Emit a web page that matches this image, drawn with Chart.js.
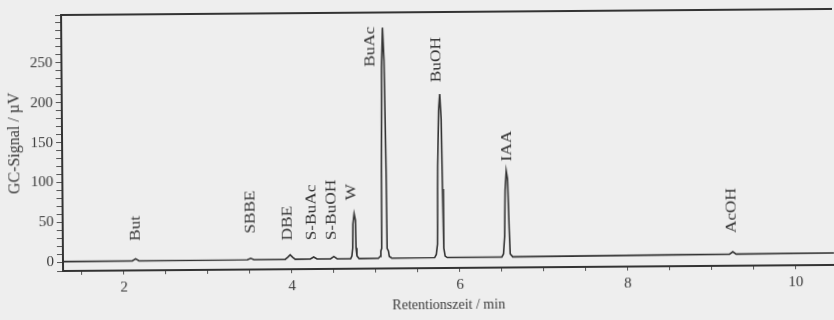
<!DOCTYPE html>
<html>
<head>
<meta charset="utf-8">
<script src="https://cdn.jsdelivr.net/npm/chart.js@4/dist/chart.umd.min.js"></script>
<style>
  html, body { margin: 0; padding: 0; background: #eeeeee; overflow: hidden; }
  /* the scanned figure is a little tilted */
  #gc { display: block; transform: rotate(-0.45deg); transform-origin: 63px 262px; }
</style>
</head>
<body>
<canvas id="gc" width="834" height="320"></canvas>
<script>
// GC chromatogram
var times = [
  1.275, 2.10, 2.14, 2.18,
  3.47, 3.51, 3.55,
  3.92, 3.95, 3.98, 4.01, 4.04,
  4.22, 4.26, 4.30,
  4.46, 4.50, 4.54,
  4.70, 4.715, 4.725, 4.73, 4.745, 4.76, 4.765, 4.775, 4.80,
  5.03, 5.05, 5.06, 5.07, 5.075, 5.085, 5.10, 5.115, 5.13, 5.135, 5.15, 5.16, 5.19,
  5.70, 5.72, 5.735, 5.745, 5.76, 5.775, 5.79, 5.80, 5.81, 5.825, 5.85,
  6.50, 6.52, 6.535, 6.545, 6.56, 6.575, 6.59, 6.60, 6.63,
  9.21, 9.25, 9.29,
  10.454
];
var signal = [
  0.8, 1.0, 3.5, 1.0,
  1.3, 3.0, 1.3,
  1.4, 4.0, 7.0, 4.0, 1.4,
  1.5, 4.0, 1.5,
  1.6, 4.5, 1.6,
  1.7, 5, 15, 45, 58, 50, 15, 5, 1.7,
  1.9, 4, 11, 14, 110, 240, 291, 250, 110, 14, 11, 4, 1.9,
  2.1, 6, 19, 117, 186, 207, 176, 88, 14, 4, 2.1,
  2.3, 6, 28, 86, 110, 100, 38, 6, 2.3,
  3.6, 6.5, 3.6,
  4.0
];

// peak names and where their labels sit (min, µV)
var peakNames   = ['But', 'SBBE', 'DBE', 'S-BuAc', 'S-BuOH', 'W', 'BuAc', 'BuOH', 'IAA', 'AcOH'];
var labelTimes  = [2.14, 3.51, 3.96, 4.245, 4.48, 4.72, 4.96, 5.745, 6.57, 9.24];
var labelLevels = [26, 34, 25, 25, 25, 75, 242, 222, 122, 30];

var xTickLabels = [2, 4, 6, 8, 10];
var yTickLabels = [0, 50, 100, 150, 200, 250];

var points = times.map(function (t, i) { return { x: t, y: signal[i] }; });

var serif = "'Liberation Serif', 'Times New Roman', serif";
var ink = '#333333';

var peakLabels = {
  id: 'peakLabels',
  afterDatasetsDraw: function (chart) {
    var ctx = chart.ctx, xs = chart.scales.x, ys = chart.scales.y;
    ctx.save();
    ctx.fillStyle = '#333';
    ctx.font = '15px ' + serif;
    ctx.textAlign = 'left';
    ctx.textBaseline = 'middle';
    peakNames.forEach(function (name, i) {
      var px = xs.getPixelForValue(labelTimes[i]);
      var py = ys.getPixelForValue(labelLevels[i]);
      ctx.save();
      ctx.translate(px, py);
      ctx.rotate(-Math.PI / 2);
      ctx.scale(1.15, 1);
      ctx.fillText(name, 0, 0);
      ctx.restore();
    });
    ctx.restore();
  }
};

var ctx = document.getElementById('gc').getContext('2d');
var myChart = new Chart(ctx, {
  type: 'line',
  data: {
    datasets: [{
      data: points,
      borderColor: ink,
      borderWidth: 1.6,
      pointRadius: 0,
      tension: 0,
      fill: false
    }]
  },
  options: {
    responsive: false,
    animation: false,
    layout: { padding: { top: 15, right: 0, bottom: 0, left: 0 } },
    plugins: {
      legend: { display: false },
      tooltip: { enabled: false }
    },
    scales: {
      x: {
        type: 'linear',
        min: 1.275,
        max: 10.454,
        afterFit: function (s) { s.height = 49; },
        afterBuildTicks: function (s) {
          var t = [];
          for (var v = 1.5; v <= 10.001; v += 0.5) t.push({ value: Math.round(v * 10) / 10 });
          s.ticks = t;
        },
        ticks: {
          autoSkip: false,
          maxRotation: 0,
          padding: 4,
          color: '#3a3a3a',
          font: { family: serif, size: 15 },
          callback: function (v) {
            return xTickLabels.indexOf(v) >= 0 ? String(v) : '';
          }
        },
        grid: {
          display: true,
          drawOnChartArea: false,
          drawTicks: true,
          tickLength: 4,
          color: '#555',
          lineWidth: 1
        },
        border: { display: true, color: ink, width: 2 },
        title: {
          display: true,
          text: 'Retentionszeit / min',
          color: '#3a3a3a',
          font: { family: serif, size: 14 },
          padding: { top: 0, bottom: 3 }
        }
      },
      top: {
        type: 'linear',
        position: 'top',
        min: 1.275,
        max: 10.454,
        afterFit: function (s) { s.height = 0; },
        ticks: { display: false },
        grid: { display: true, drawOnChartArea: false, drawTicks: false },
        border: { display: true, color: ink, width: 2 }
      },
      y: {
        min: -11,
        max: 310,
        afterFit: function (s) { s.width = 63; },
        ticks: {
          stepSize: 10,
          autoSkip: false,
          padding: 3,
          color: '#3a3a3a',
          font: { family: serif, size: 15 },
          callback: function (v) {
            return yTickLabels.indexOf(v) >= 0 ? String(v) : '';
          }
        },
        grid: {
          display: true,
          drawOnChartArea: false,
          drawTicks: true,
          tickLength: 6,
          color: '#555',
          lineWidth: 1
        },
        border: { display: true, color: ink, width: 2 },
        title: {
          display: true,
          text: 'GC-Signal / µV',
          color: '#3a3a3a',
          font: { family: serif, size: 16 },
          padding: { top: 6, bottom: 0 }
        }
      }
    }
  },
  plugins: [peakLabels]
});
</script>
</body>
</html>
